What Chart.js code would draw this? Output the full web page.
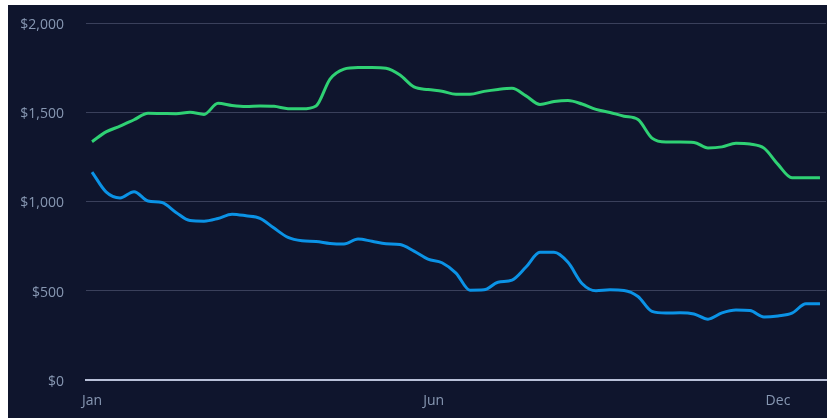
<!DOCTYPE html>
<html lang="en">
<head>
  <meta charset="UTF-8">
  <title>Income vs Spending</title>
  <script src="https://cdn.jsdelivr.net/npm/chart.js"></script>
  <style>
    html, body { margin: 0; padding: 0; background: #ffffff; }
    body { width: 828px; height: 418px; position: relative; overflow: hidden; }
    .panel { position: absolute; left: 8px; top: 5px; width: 819px; height: 413px; background: #0f152d; }
    .panel canvas { display: block; }
  </style>
</head>
<body>
  <div class="panel">
    <canvas id="chartTrend" width="819" height="413"></canvas>
  </div>

  <script>
    // weekly balances
    const income = [
      1335, 1390, 1422, 1458, 1494, 1493, 1492, 1500, 1488, 1550,
      1538, 1532, 1535, 1533, 1520, 1519, 1535, 1686, 1742, 1751,
      1751, 1746, 1708, 1642, 1627, 1618, 1601, 1601, 1617, 1628,
      1634, 1592, 1544, 1560, 1566, 1546, 1516, 1499, 1478, 1459,
      1355, 1333, 1333, 1331, 1300, 1306, 1327, 1322, 1299, 1208,
      1133, 1133, 1133
    ];
    const spending = [
      1165, 1054, 1020, 1055, 1003, 994, 939, 893, 890, 905,
      929, 920, 906, 851, 799, 780, 776, 765, 762, 790,
      777, 763, 759, 722, 677, 657, 599, 503, 505, 548,
      560, 633, 715, 715, 659, 541, 500, 505, 502, 468,
      384, 375, 377, 370, 341, 376, 392, 389, 353, 359,
      374, 427, 427
    ];
    const monthLabels = ['Jan', 'Jun', 'Dec'];
    const monthWeeks = [0, 24.4, 49];
    const yTicks = [0, 500, 1000, 1500, 2000];

    const toPoints = arr => arr.map((v, i) => ({ x: i, y: v }));
    const money = v => '$' + v.toLocaleString('en-US');
    const tickFont = { family: 'Open Sans', size: 14 };

    const ctx = document.getElementById('chartTrend').getContext('2d');
    new Chart(ctx, {
      type: 'line',
      data: {
        datasets: [
          {
            label: 'Income',
            data: toPoints(income),
            borderColor: '#2fd174',
            borderWidth: 3,
            pointRadius: 0,
            cubicInterpolationMode: 'monotone'
          },
          {
            label: 'Spending',
            data: toPoints(spending),
            borderColor: '#0b93e6',
            borderWidth: 3,
            pointRadius: 0,
            cubicInterpolationMode: 'monotone'
          }
        ]
      },
      options: {
        responsive: false,
        animation: false,
        layout: { padding: { top: 18, right: 1, bottom: 0, left: 0 } },
        plugins: { legend: { display: false }, tooltip: { enabled: false } },
        scales: {
          x: {
            type: 'linear',
            min: -0.43,
            max: income.length - 1 + 0.43,
            grid: { display: false, drawTicks: false },
            border: { display: true, color: '#b8c0d8', width: 2 },
            afterBuildTicks: s => { s.ticks = monthWeeks.map(v => ({ value: v })); },
            afterFit: s => { s.height = 38; },
            ticks: {
              autoSkip: false,
              maxRotation: 0,
              padding: 13,
              color: '#8797b2',
              font: tickFont,
              callback: (v, i) => monthLabels[i]
            }
          },
          y: {
            min: 0,
            max: 2000,
            afterBuildTicks: s => { s.ticks = yTicks.map(v => ({ value: v })); },
            // fixed gutter for the $ labels, no extra top/bottom room
            afterFit: s => { s.width = 78; s.paddingTop = 0; s.paddingBottom = 0; },
            grid: { color: '#3a405b', lineWidth: 1, drawTicks: false },
            border: { display: false },
            ticks: {
              padding: 22,
              labelOffset: 2,
              color: '#8797b2',
              font: tickFont,
              callback: v => money(v)
            }
          }
        }
      }
    });
  </script>
</body>
</html>
